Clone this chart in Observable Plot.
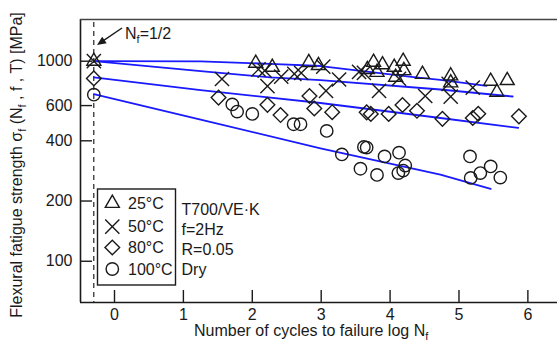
<!DOCTYPE html>
<html><head><meta charset="utf-8">
<script src="https://cdn.jsdelivr.net/npm/d3@7"></script>
<script src="https://cdn.jsdelivr.net/npm/@observablehq/plot@0.6"></script>
<style>
body{margin:0;background:#fff;}
#chart{width:557px;height:347px;}
</style></head><body><div id="chart"></div>
<script>
// ---- data ----
const xTicks = [0, 1, 2, 3, 4, 5, 6];
const yTicks = [100, 200, 400, 600, 1000];
const temps = ["25°C", "50°C", "80°C", "100°C"];
const infoLines = ["T700/VE·K", "f=2Hz", "R=0.05", "Dry"];

const logN25 = [-0.3, 2.05, 2.29, 2.82, 2.96, 3.67, 3.76, 3.89, 3.81, 4.06, 4.19, 4.20, 4.08, 4.47, 4.88, 4.88, 5.46, 5.70, 5.55];
const sig25  = [1000, 977, 933, 985, 952, 910, 989, 960, 880, 933, 1000, 898, 832, 860, 845, 780, 795, 801, 700];

const logN50 = [-0.3, 1.56, 2.09, 2.18, 2.22, 2.42, 2.61, 2.71, 3.03, 3.26, 3.07, 3.55, 3.62, 3.84, 4.13, 4.51, 4.85, 4.88, 5.20];
const sig50  = [1000, 815, 910, 898, 750, 837, 865, 873, 940, 810, 710, 885, 875, 710, 817, 670, 770, 665, 738];

const logN80 = [-0.3, 1.51, 2.22, 2.41, 2.83, 2.90, 3.16, 3.66, 3.72, 3.98, 4.18, 4.39, 4.76, 5.20, 5.28, 5.87];
const sig80  = [820, 658, 605, 538, 670, 580, 556, 555, 545, 545, 604, 565, 515, 520, 546, 530];

const logN100 = [-0.3, 1.71, 1.78, 2.00, 2.60, 2.70, 3.08, 3.30, 3.62, 3.66, 3.57, 3.81, 3.92, 4.13, 4.22, 4.19, 4.12, 5.16, 5.46, 5.31, 5.17, 5.60];
const sig100  = [680, 608, 560, 545, 484, 484, 448, 342, 373, 370, 290, 270, 334, 349, 301, 284, 276, 334, 298, 276, 261, 262];

// fitted curves
const fitX25 = [-0.3, 1.25, 2.26, 2.99, 4.34, 4.73, 5.40];
const fitY25 = [1000, 998, 970, 946, 832, 807, 752];
const fitX50 = [-0.3, 1.25, 2.26, 2.99, 4.73, 5.78];
const fitY50 = [1000, 893, 830, 805, 722, 666];
const fitX80 = [-0.3, 1.25, 2.99, 4.73, 5.86];
const fitY80 = [830, 716, 618, 520, 464];
const fitX100 = [-0.3, 1.25, 2.99, 4.73, 5.46];
const fitY100 = [685, 511, 367, 271, 230];

// ---- build ----
const W = 557, H = 347, mL = 80, mR = 0, mT = 19, mB = 45;
const plotW = W - mL - mR, plotH = H - mT - mB;
const xDomain = [-0.4935, 6.43], yDomain = [62.2, 1616];
const FONT = '"Liberation Sans", Arial, Helvetica, sans-serif';
const BLUE = "#1a1aff", INK = "#1a1a1a";

const series = [
  {t: temps[0], symbol: "triangle2", r: 6.7, xs: logN25, ys: sig25, fx: fitX25, fy: fitY25},
  {t: temps[1], symbol: "times", r: 6.5, xs: logN50, ys: sig50, fx: fitX50, fy: fitY50},
  {t: temps[2], symbol: "diamond2", r: 6.6, xs: logN80, ys: sig80, fx: fitX80, fy: fitY80},
  {t: temps[3], symbol: "circle", r: 6.2, xs: logN100, ys: sig100, fx: fitX100, fy: fitY100}
];
const fitRows = series.flatMap(s => s.fx.map((x, i) => ({x, y: s.fy[i], t: s.t})));

const plot = Plot.plot({
  width: W, height: H,
  marginLeft: mL, marginRight: mR, marginTop: mT, marginBottom: mB,
  style: {fontFamily: FONT, fontSize: "16px", color: INK, background: "#fff", overflow: "visible"},
  x: {domain: xDomain, label: null},
  y: {type: "log", domain: yDomain, label: null},
  marks: [
    Plot.ruleX([xDomain[0]], {stroke: INK, strokeWidth: 1.6}),
    Plot.ruleY([yDomain[0]], {stroke: INK, strokeWidth: 1.6}),
    Plot.ruleY([yDomain[1]], {stroke: "#444", strokeWidth: 1.4}),
    Plot.tickX(xTicks, {x: d => d, insetTop: plotH - 12, stroke: INK, strokeWidth: 1.4}),
    Plot.tickY(yTicks, {y: d => d, insetRight: plotW - 12, stroke: INK, strokeWidth: 1.4}),
    Plot.axisX(xTicks, {tickSize: 0, tickPadding: 6, label: null, tickFormat: d => String(d), fontSize: 16, fill: INK}),
    Plot.axisY(yTicks, {tickSize: 0, tickPadding: 8, label: null, tickFormat: d => String(d), fontSize: 16, fill: INK}),
    Plot.ruleX([Math.log10(0.5)], {stroke: "#333", strokeWidth: 1.3, strokeDasharray: "5,4", insetTop: 3}),
    Plot.line(fitRows, {x: "x", y: "y", z: "t", stroke: BLUE, strokeWidth: 1.8}),
    ...series.map(s => Plot.dot(s.xs.map((x, i) => ({x, y: s.ys[i]})),
      {x: "x", y: "y", symbol: s.symbol, r: s.r, fill: "none", stroke: INK, strokeWidth: 1.4}))
  ]
});
document.getElementById("chart").appendChild(plot);

// ---- annotations, titles and legend ----
const svg = d3.select(plot);
const g = svg.append("g").attr("font-family", FONT).attr("fill", INK).attr("text-anchor", "start");

// y title with subscripts
const yt = g.append("text").attr("transform", "translate(21.5,165) rotate(-90)")
  .attr("text-anchor", "middle").attr("font-size", 16);
yt.append("tspan").text("Flexural fatigue strength σ");
yt.append("tspan").attr("font-size", 11).attr("dy", 4).text("f");
yt.append("tspan").attr("dy", -4).text(" (N");
yt.append("tspan").attr("font-size", 11).attr("dy", 4).text("f");
yt.append("tspan").attr("dy", -4).text(" , f , T) [MPa]");

// x title
const xt = g.append("text").attr("x", 194).attr("y", 336).attr("font-size", 16);
xt.append("tspan").text("Number of cycles to failure log N");
xt.append("tspan").attr("font-size", 11).attr("dy", 4).text("f");

// N_f = 1/2 annotation with arrow
const at = g.append("text").attr("x", 125).attr("y", 39).attr("font-size", 16);
at.append("tspan").text("N");
at.append("tspan").attr("font-size", 11).attr("dy", 4).text("f");
at.append("tspan").attr("dy", -4).text("=1/2");
const ax0 = 122, ay0 = 28, ax1 = 97, ay1 = 45;
const ang = Math.atan2(ay1 - ay0, ax1 - ax0);
g.append("line").attr("x1", ax0).attr("y1", ay0)
  .attr("x2", ax1 - 6 * Math.cos(ang)).attr("y2", ay1 - 6 * Math.sin(ang))
  .attr("stroke", INK).attr("stroke-width", 1.4);
const hl = 9, hw = 4;
const bx = ax1 - hl * Math.cos(ang), by = ay1 - hl * Math.sin(ang);
const px = -Math.sin(ang) * hw, py = Math.cos(ang) * hw;
g.append("path").attr("d", `M${ax1},${ay1}L${bx + px},${by + py}L${bx - px},${by - py}Z`).attr("fill", INK);

// legend box
g.append("rect").attr("x", 97.5).attr("y", 189).attr("width", 78).attr("height", 96)
  .attr("fill", "#fff").attr("stroke", INK).attr("stroke-width", 1.4);
const symMap = {triangle2: d3.symbolTriangle2, times: d3.symbolTimes, diamond2: d3.symbolDiamond2, circle: d3.symbolCircle};
const symY = [203.3, 226.7, 247.5, 269];
const txtY = [209.3, 232.3, 253.3, 274.5];
series.forEach((s, i) => {
  g.append("path").attr("transform", `translate(112.3,${symY[i]})`)
    .attr("d", d3.symbol(symMap[s.symbol], Math.PI * s.r * s.r)())
    .attr("fill", "none").attr("stroke", INK).attr("stroke-width", 1.4);
  g.append("text").attr("x", 128).attr("y", txtY[i]).attr("font-size", 16).text(s.t);
});
const infoY = [215, 235, 255, 275];
infoLines.forEach((t, i) => {
  g.append("text").attr("x", 181.5).attr("y", infoY[i]).attr("font-size", 16).text(t);
});
</script></body></html>
